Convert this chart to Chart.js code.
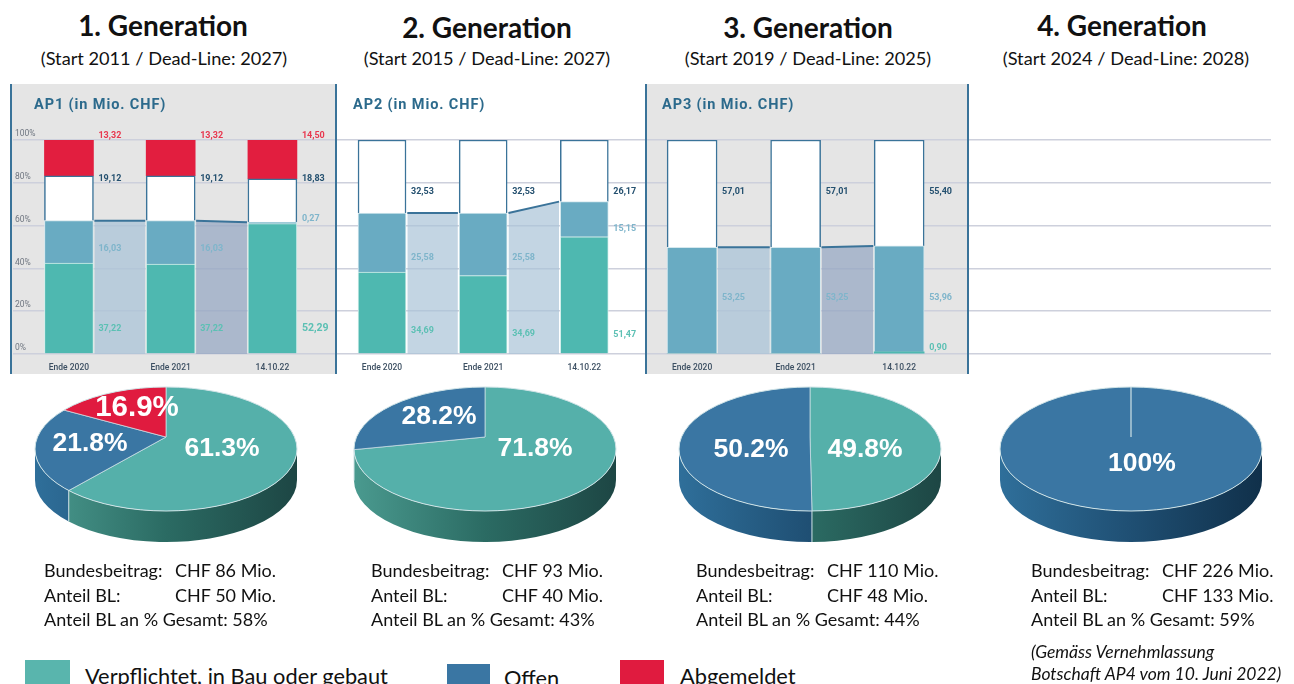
<!DOCTYPE html>
<html>
<head>
<meta charset="utf-8">
<script src="https://cdn.jsdelivr.net/npm/chart.js@4"></script>
<style>
html, body { margin: 0; padding: 0; background: #fff; overflow: hidden; }
#page { position: relative; width: 1294px; height: 684px; overflow: hidden; font-family: Lato, sans-serif; color: #111; }
#page div, #page canvas { position: absolute; }
.txt { white-space: nowrap; transform: translateY(-50%); }
.mid { transform: translate(-50%, -50%); }
.title { font-size: 28px; font-weight: 700; }
.sub { font-size: 18.2px; }
.ap { font-family: Roboto, sans-serif; font-size: 14.5px; font-weight: 700; letter-spacing: 0.9px; color: #2c6a8c; }
.info { font-size: 18px; }
.legendText { font-size: 21.8px; }
.note { font-size: 17.5px; font-style: italic; }
</style>
</head>
<body>
<div id="page"></div>
<script>
// bars: share of each stack in %
var barLabels = ["Ende 2020", "Ende 2021", "14.10.22"];
var percentTicks = [0, 20, 40, 60, 80, 100];

var ap1Committed = [42.5, 42, 60.9];
var ap1Open = [19.8, 20.3, 0.7];
var ap1Free = [20.9, 21, 20.2];
var ap1Withdrawn = [16.8, 16.7, 18.2];
var ap1CommittedText = ["37,22", "37,22", "52,29"];
var ap1OpenText = ["16,03", "16,03", "0,27"];
var ap1FreeText = ["19,12", "19,12", "18,83"];
var ap1WithdrawnText = ["13,32", "13,32", "14,50"];

var ap2Committed = [38.3, 36.6, 54.8];
var ap2Open = [27.6, 29.3, 16.4];
var ap2Free = [34.1, 34.1, 28.8];
var ap2CommittedText = ["34,69", "34,69", "51,47"];
var ap2OpenText = ["25,58", "25,58", "15,15"];
var ap2FreeText = ["32,53", "32,53", "26,17"];

var ap3Committed = [0, 0, 1];
var ap3Open = [49.9, 49.9, 49.5];
var ap3Free = [50.1, 50.1, 49.5];
var ap3CommittedText = ["", "", "0,90"];
var ap3OpenText = ["53,25", "53,25", "53,96"];
var ap3FreeText = ["57,01", "57,01", "55,40"];

// pies
var pie1Values = [61.3, 21.8, 16.9];
var pie2Values = [71.8, 28.2];
var pie3Values = [49.8, 50.2];
var pie4Values = [100];

var genTitles = ["1. Generation", "2. Generation", "3. Generation", "4. Generation"];
var genSubs = ["(Start 2011 / Dead-Line: 2027)", "(Start 2015 / Dead-Line: 2027)", "(Start 2019 / Dead-Line: 2025)", "(Start 2024 / Dead-Line: 2028)"];
var federalShare = ["CHF 86 Mio.", "CHF 93 Mio.", "CHF 110 Mio.", "CHF 226 Mio."];
var blShare = ["CHF 50 Mio.", "CHF 40 Mio.", "CHF 48 Mio.", "CHF 133 Mio."];
var blPercent = ["58%", "43%", "44%", "59%"];

var TEAL = "#4eb8b0", OPEN = "#69abc2", RED = "#e21e3f", EDGE = "#3a7399";
var PIE_TEAL = "#55b0aa", PIE_BLUE = "#3a76a3", PIE_RED = "#e01b3f";

var page = document.getElementById("page");

function AddBox(x, y, w, h, color) {
    var d = document.createElement("div");
    d.style.cssText = "left:" + x + "px;top:" + y + "px;width:" + w + "px;height:" + h + "px;background:" + color;
    page.appendChild(d);
}

function AddText(text, x, y, cls, center) {
    var d = document.createElement("div");
    d.className = "txt " + cls + (center ? " mid" : "");
    d.style.left = x + "px";
    d.style.top = y + "px";
    d.textContent = text;
    page.appendChild(d);
}

function AddCanvas(x, y, w, h) {
    var c = document.createElement("canvas");
    c.width = w;
    c.height = h;
    c.style.left = x + "px";
    c.style.top = y + "px";
    page.appendChild(c);
    return c;
}

// numbers next to the bars, rows = one entry per series
function SideLabels(rows, gap) {
    return {
        id: "sideLabels",
        afterDatasetsDraw: function (chart) {
            var ctx = chart.ctx;
            ctx.save();
            ctx.textBaseline = "middle";
            ctx.textAlign = "left";
            rows.forEach(function (row) {
                ctx.fillStyle = row.color;
                row.texts.forEach(function (t, i) {
                    var size = row.big && row.big[i] ? 10.5 : 9;
                    ctx.font = "700 " + size + "px Roboto";
                    ctx.fillText(t, chart.scales.x.getPixelForValue(2 * i + 1) + gap, chart.scales.y.getPixelForValue(row.heights[i]));
                });
            });
            ctx.restore();
        }
    };
}

function BandData(from, to) {
    return [{ x: from.x, y: from.y }, { x: to.x, y: to.y }];
}

function BuildBars(x, w, xMin, xMax, series, rows, bandColors, thick, showTicks) {
    var datasets = [];
    if (series.length) {
        var tops = barLabels.map(function (l, i) { return series[0].values[i] + series[1].values[i]; });
        [0, 1].forEach(function (b) {
            datasets.push({
                type: "line",
                order: 2,
                stack: "band" + b,
                data: BandData({ x: 2 * b + 1.5, y: tops[b] }, { x: 2 * b + 2.5, y: tops[b + 1] }),
                borderColor: EDGE,
                borderWidth: 2,
                pointRadius: 0,
                tension: 0,
                fill: "origin",
                backgroundColor: bandColors[b]
            });
        });
        series.forEach(function (s) {
            datasets.push({
                type: "bar",
                order: 1,
                data: s.values.map(function (v, i) { return { x: 2 * i + 1, y: v }; }),
                backgroundColor: s.color,
                borderColor: s.edge,
                borderWidth: s.line,
                barThickness: thick
            });
        });
    }
    new Chart(AddCanvas(x, 84, w, 290), {
        type: "bar",
        data: { datasets: datasets },
        plugins: rows.length ? [SideLabels(rows, thick / 2 + 5)] : [],
        options: {
            responsive: false,
            animation: false,
            layout: { padding: { top: 56, left: 0, right: 0, bottom: 0 } },
            plugins: { legend: { display: false }, tooltip: { enabled: false } },
            scales: {
                x: {
                    type: "linear",
                    stacked: true,
                    offset: false,
                    min: xMin,
                    max: xMax,
                    afterBuildTicks: function (scale) {
                        scale.ticks = series.length ? barLabels.map(function (l, i) { return { value: 2 * i + 1 }; }) : [];
                    },
                    afterFit: function (scale) { scale.height = 20; },
                    border: { display: false },
                    grid: { display: false },
                    ticks: {
                        autoSkip: false,
                        maxRotation: 0,
                        padding: 1,
                        color: "#3c4f62",
                        font: { family: "Roboto", size: 8.5, weight: "500" },
                        callback: function (v) { return barLabels[(v - 1) / 2]; }
                    }
                },
                y: {
                    stacked: true,
                    min: 0,
                    max: 100,
                    afterBuildTicks: function (scale) {
                        scale.ticks = percentTicks.map(function (v) { return { value: v }; });
                    },
                    afterFit: function (scale) { scale.width = 0; },
                    border: { display: false },
                    grid: { color: "#cdd0dc", lineWidth: 1.5, drawTicks: false },
                    ticks: {
                        display: showTicks,
                        mirror: true,
                        padding: 2,
                        labelOffset: -6,
                        color: "#6f7680",
                        font: { family: "Roboto", size: 8.5 },
                        callback: function (v) { return v + "%"; }
                    }
                }
            }
        }
    });
}

// Pie seen in perspective: the slices meet 12px above the middle of the ellipse.
// Arcs come from the library with a large radius, get squeezed in y and clipped to the top face.
var SQUEEZE = 62 / 131, DEPTH = 31, RIM_X = 131, RIM_Y = 62, VERTEX_DROP = 12;

function WallGradient(ctx, cx, rx, color) {
    var g = ctx.createLinearGradient(cx - rx, 0, cx + rx, 0);
    if (color === PIE_TEAL) {
        g.addColorStop(0, "#4a9a8f");
        g.addColorStop(0.5, "#2b6b63");
        g.addColorStop(1, "#1d4644");
    } else {
        g.addColorStop(0, "#2f6f9a");
        g.addColorStop(0.5, "#1f4f73");
        g.addColorStop(1, "#10304a");
    }
    return g;
}

// where a slice edge leaving the vertex hits the rim, as an ellipse angle
function RimAngle(angle) {
    var d = VERTEX_DROP / SQUEEZE;
    var s = Math.sin(angle);
    var t = d * s + Math.sqrt(d * d * s * s - d * d + RIM_X * RIM_X);
    var phi = Math.atan2(t * s - d, t * Math.cos(angle));
    if (angle > Math.PI / 2 && phi < 0) phi += 2 * Math.PI;
    return phi;
}

function PiePlugin(colors, labels, spots) {
    return {
        id: "pie3d",
        beforeDatasetsDraw: function (chart) {
            var ctx = chart.ctx;
            var arcs = chart.getDatasetMeta(0).data;
            var cx = arcs[0].x, ey = arcs[0].y + VERTEX_DROP;
            arcs.forEach(function (arc, i) {
                var a = Math.max(RimAngle(arc.startAngle), 0), b = Math.min(RimAngle(arc.endAngle), Math.PI);
                if (b <= a) return;
                ctx.beginPath();
                ctx.ellipse(cx, ey, RIM_X, RIM_Y, 0, a, b);
                ctx.ellipse(cx, ey + DEPTH, RIM_X, RIM_Y, 0, b, a, true);
                ctx.closePath();
                ctx.fillStyle = WallGradient(ctx, cx, RIM_X, colors[i]);
                ctx.fill();
                // seam on the wall where two slices meet
                if (a > 0) {
                    var sx = cx + RIM_X * Math.cos(a), sy = ey + RIM_Y * Math.sin(a);
                    ctx.beginPath();
                    ctx.moveTo(sx, sy);
                    ctx.lineTo(sx, sy + DEPTH);
                    ctx.strokeStyle = "#cfe3e6";
                    ctx.lineWidth = 1;
                    ctx.stroke();
                }
            });
            ctx.save();
            ctx.beginPath();
            ctx.ellipse(cx, ey, RIM_X, RIM_Y, 0, 0, 2 * Math.PI);
            ctx.clip();
            ctx.translate(cx, arcs[0].y);
            ctx.scale(1, SQUEEZE);
            ctx.translate(-cx, -arcs[0].y);
        },
        afterDatasetsDraw: function (chart) {
            var ctx = chart.ctx;
            ctx.restore();
            var c = chart.getDatasetMeta(0).data[0];
            ctx.save();
            ctx.beginPath();
            ctx.ellipse(c.x, c.y + VERTEX_DROP, RIM_X, RIM_Y, 0, 0, 2 * Math.PI);
            ctx.strokeStyle = "#cfe3e6";
            ctx.lineWidth = 1;
            ctx.stroke();
            ctx.fillStyle = "#fff";
            ctx.textAlign = "center";
            ctx.textBaseline = "middle";
            labels.forEach(function (t, i) {
                ctx.font = "700 " + (spots[i][2] || 26.5) + "px 'Liberation Sans'";
                ctx.fillText(t, c.x + spots[i][0], c.y + spots[i][1]);
            });
            ctx.restore();
        }
    };
}

function BuildPie(cx, values, colors, spots) {
    var labels = values.map(function (v) { return v === 100 ? "100%" : v.toFixed(1) + "%"; });
    new Chart(AddCanvas(cx - 140, 437 - 140, 280, 280), {
        type: "pie",
        data: {
            datasets: [{
                data: values,
                backgroundColor: colors,
                borderColor: "#cfe3e6",
                borderWidth: 1
            }]
        },
        plugins: [PiePlugin(colors, labels, spots)],
        options: {
            responsive: false,
            animation: false,
            radius: 175,
            plugins: { legend: { display: false }, tooltip: { enabled: false } }
        }
    });
}

function Startup() {
    // panels
    AddBox(11, 84, 325, 290, "#e5e5e5");
    AddBox(646, 84, 322, 290, "#e5e5e5");
    AddBox(968, 84, 303, 290, "#fff");

    BuildBars(13, 323, -0.1, 6.25, [
        { values: ap1Committed, color: TEAL, edge: "#d5efec", line: 1 },
        { values: ap1Open, color: OPEN, edge: "#d5e8ee", line: 1 },
        { values: ap1Free, color: "#fff", edge: EDGE, line: 1.5 },
        { values: ap1Withdrawn, color: RED, edge: RED, line: 0 }
    ], [
        { texts: ap1WithdrawnText, heights: [101.9, 101.9, 101.9], color: "#e8374f" },
        { texts: ap1FreeText, heights: [81.9, 81.9, 82], color: "#24506f" },
        { texts: ap1OpenText, heights: [49, 49, 63], color: "#7fb5cb" },
        { texts: ap1CommittedText, heights: [12, 12, 12], color: "#5cc0b4", big: [false, false, true] }
    ], ["rgba(169,195,215,0.75)", "rgba(140,160,190,0.65)"], 49, true);

    BuildBars(336, 309, 0.09, 6.2, [
        { values: ap2Committed, color: TEAL, edge: "#d5efec", line: 1 },
        { values: ap2Open, color: OPEN, edge: "#d5e8ee", line: 1 },
        { values: ap2Free, color: "#fff", edge: EDGE, line: 1.5 }
    ], [
        { texts: ap2FreeText, heights: [75.8, 75.8, 75.8], color: "#24506f" },
        { texts: ap2OpenText, heights: [45, 45, 58.4], color: "#7fb5cb" },
        { texts: ap2CommittedText, heights: [10.9, 9.5, 8.9], color: "#5cc0b4" }
    ], ["rgba(169,195,215,0.7)", "rgba(169,195,215,0.7)"], 48, false);

    BuildBars(645, 323, 0.09, 6.33, [
        { values: ap3Committed, color: TEAL, edge: "#d5efec", line: 0 },
        { values: ap3Open, color: OPEN, edge: "#d5e8ee", line: 1 },
        { values: ap3Free, color: "#fff", edge: EDGE, line: 1.5 }
    ], [
        { texts: ap3FreeText, heights: [75.8, 75.8, 75.8], color: "#24506f" },
        { texts: ap3OpenText, heights: [26.3, 26.3, 26.3], color: "#7fb5cb" },
        { texts: ap3CommittedText, heights: [2.8, 2.8, 2.8], color: "#5cc0b4" }
    ], ["rgba(169,195,215,0.75)", "rgba(140,160,190,0.65)"], 50, false);

    BuildBars(968, 303, 0, 6, [], [], [], 50, false);

    // panel rules on top of the grid
    AddBox(10, 84, 2, 290, EDGE);
    AddBox(335, 84, 2, 290, EDGE);
    AddBox(645, 84, 2, 290, EDGE);
    AddBox(967, 84, 2, 290, EDGE);

    BuildPie(166, pie1Values, [PIE_TEAL, PIE_BLUE, PIE_RED], [[56, 12], [-76, 7], [-29, -29, 29.5]]);
    BuildPie(485, pie2Values, [PIE_TEAL, PIE_BLUE], [[50, 12], [-46, -20]]);
    BuildPie(810, pie3Values, [PIE_TEAL, PIE_BLUE], [[55, 13], [-59, 13]]);
    BuildPie(1131, pie4Values, [PIE_BLUE], [[11, 27]]);

    var titleX = [163, 487, 808, 1122], titleY = [25, 27, 27, 25], subX = [164, 487, 808, 1126];
    var apX = [34, 353, 662];
    var textX = [44, 371, 696, 1031], chfX = [175, 502, 827, 1162];
    genTitles.forEach(function (t, i) {
        AddText(t, titleX[i], titleY[i], "title", true);
        AddText(genSubs[i], subX[i], 58, "sub", true);
        AddText("Bundesbeitrag:", textX[i], 570, "info");
        AddText(federalShare[i], chfX[i], 570, "info");
        AddText("Anteil BL:", textX[i], 595, "info");
        AddText(blShare[i], chfX[i], 595, "info");
        AddText("Anteil BL an % Gesamt: " + blPercent[i], textX[i], 619, "info");
    });
    ["AP1 (in Mio. CHF)", "AP2 (in Mio. CHF)", "AP3 (in Mio. CHF)"].forEach(function (t, i) {
        AddText(t, apX[i], 104, "ap");
    });

    AddBox(25, 660, 45, 24, "#59b5ad");
    AddText("Verpflichtet, in Bau oder gebaut", 85, 675, "legendText");
    AddBox(447, 664, 43, 20, "#3a76a3");
    AddText("Offen", 504, 677, "legendText");
    AddBox(620, 660, 44, 24, "#e01b3f");
    AddText("Abgemeldet", 680, 675, "legendText");
    AddText("(Gemäss Vernehmlassung", 1031, 651, "note");
    AddText("Botschaft AP4 vom 10. Juni 2022)", 1031, 673, "note");
}

Startup();
</script>
</body>
</html>
